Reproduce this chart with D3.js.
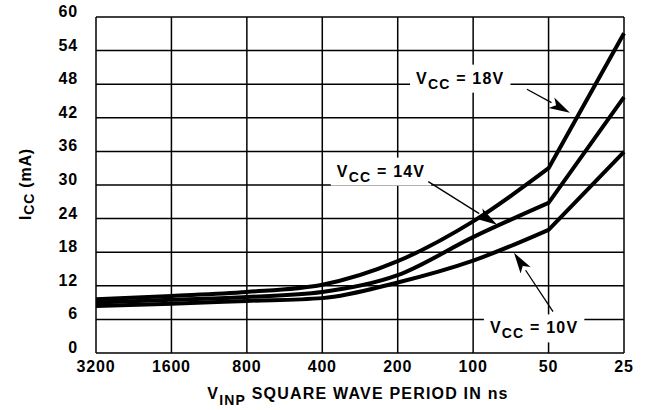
<!DOCTYPE html>
<html>
<head>
<meta charset="utf-8">
<script src="https://cdn.jsdelivr.net/npm/d3@7/dist/d3.min.js"></script>
<style>
  html, body { margin: 0; padding: 0; background: #fff; }
  svg { display: block; }
  text { font-family: "Liberation Sans", Arial, Helvetica, sans-serif; font-weight: bold; fill: #000; }
</style>
</head>
<body>
<svg id="chart" width="647" height="410"></svg>
<script>
// ---- data ----
const periods = [3200, 1600, 800, 400, 200, 100, 50, 25];
const xTickLabels = ["3200", "1600", "800", "400", "200", "100", "50", "25"];
const yTicks = [0, 6, 12, 18, 24, 30, 36, 42, 48, 54, 60];
const icc18 = [9.6, 10.2, 10.9, 12.2, 16.4, 23.5, 33.0, 57.1];
const icc14 = [9.0, 9.5, 10.0, 10.9, 13.9, 20.7, 26.8, 45.7];
const icc10 = [8.4, 8.8, 9.3, 9.8, 12.6, 16.5, 22.0, 35.9];
const seriesNames = ["18V", "14V", "10V"];
// annotation anchors in data units: [period, mA]
const labelAt = { "18V": [169, 48.1], "14V": [350, 31.5], "10V": [85.7, 3.5] };
const arrowFrom = { "18V": [61, 47.1], "14V": [151, 30.6], "10V": [48, 7.4] };
const arrowTo = { "18V": [41.1, 42.9], "14V": [80.3, 22.9], "10V": [68.7, 17.9] };

// ---- layout ----
const svg = d3.select("#chart");
const x = d3.scaleLog().base(2).domain([3200, 25]).range([96, 624]);
const y = d3.scaleLinear().domain([0, 60]).range([353, 17]);

const grid = svg.append("g").attr("stroke", "#000").attr("stroke-width", 1.5);
periods.forEach(p => {
  grid.append("line").attr("x1", x(p)).attr("x2", x(p)).attr("y1", y(0)).attr("y2", y(60));
});
yTicks.forEach(v => {
  grid.append("line").attr("x1", x(3200)).attr("x2", x(25)).attr("y1", y(v)).attr("y2", y(v));
});

// tick labels
svg.append("g").selectAll("text").data(yTicks).join("text")
  .attr("x", 78).attr("y", d => y(d))
  .attr("text-anchor", "end")
  .attr("font-size", 16).attr("letter-spacing", 0.8)
  .text(d => d);
svg.append("g").selectAll("text").data(periods).join("text")
  .attr("x", d => x(d)).attr("y", 372)
  .attr("text-anchor", "middle")
  .attr("font-size", 16).attr("letter-spacing", 0.8)
  .text((d, i) => xTickLabels[i]);

// axis titles
const xt = svg.append("text").attr("x", 358).attr("y", 399)
  .attr("text-anchor", "middle").attr("font-size", 16).attr("letter-spacing", 1.2);
xt.append("tspan").text("V");
xt.append("tspan").attr("font-size", 14).attr("dy", 6).text("INP");
xt.append("tspan").attr("dy", -6).text(" SQUARE WAVE PERIOD IN ns");

const yt = svg.append("text").attr("transform", "translate(31,184) rotate(-90)")
  .attr("text-anchor", "middle").attr("font-size", 16).attr("letter-spacing", 0.8);
yt.append("tspan").text("I");
yt.append("tspan").attr("font-size", 14).attr("dy", 3).text("CC");
yt.append("tspan").attr("dy", -3).text(" (mA)");

// curves
const seriesData = [icc18, icc14, icc10];
const lineGen = d3.line().x(d => x(d[0])).y(d => y(d[1])).curve(d3.curveMonotoneX);
seriesData.forEach(vals => {
  const pts = periods.map((p, i) => [p, vals[i]]);
  const smooth = lineGen(pts.slice(0, 7));
  const last = pts[7];
  svg.append("path")
    .attr("d", smooth + "L" + x(last[0]) + "," + y(last[1]))
    .attr("fill", "none").attr("stroke", "#000")
    .attr("stroke-width", 4).attr("stroke-linejoin", "round");
});

// labels with white background
seriesNames.forEach(name => {
  const [lp, lv] = labelAt[name];
  const g = svg.append("g");
  const rect = g.append("rect").attr("fill", "#fff");
  const t = g.append("text").attr("x", x(lp)).attr("y", y(lv))
    .attr("font-size", 16).attr("letter-spacing", 1.2);
  t.append("tspan").text("V");
  t.append("tspan").attr("font-size", 14).attr("dy", 5).text("CC");
  t.append("tspan").attr("dy", -5).text(" = " + name);
  const bb = t.node().getBBox();
  rect.attr("x", bb.x - 6).attr("y", bb.y - 5).attr("width", bb.width + 12).attr("height", bb.height + 6);

  // arrow
  const [fx, fy] = [x(arrowFrom[name][0]), y(arrowFrom[name][1])];
  const [tx, ty] = [x(arrowTo[name][0]), y(arrowTo[name][1])];
  const ang = Math.atan2(ty - fy, tx - fx);
  const hl = 21, hw = 6;
  const bx = tx - hl * Math.cos(ang), by = ty - hl * Math.sin(ang);
  svg.append("line").attr("x1", fx).attr("y1", fy).attr("x2", bx).attr("y2", by)
    .attr("stroke", "#000").attr("stroke-width", 1.3);
  const px = -Math.sin(ang) * hw, py = Math.cos(ang) * hw;
  svg.append("path")
    .attr("d", `M${tx},${ty}L${bx + px},${by + py}L${bx + 0.25 * hl * Math.cos(ang)},${by + 0.25 * hl * Math.sin(ang)}L${bx - px},${by - py}Z`)
    .attr("fill", "#000");
});
</script>
</body>
</html>
